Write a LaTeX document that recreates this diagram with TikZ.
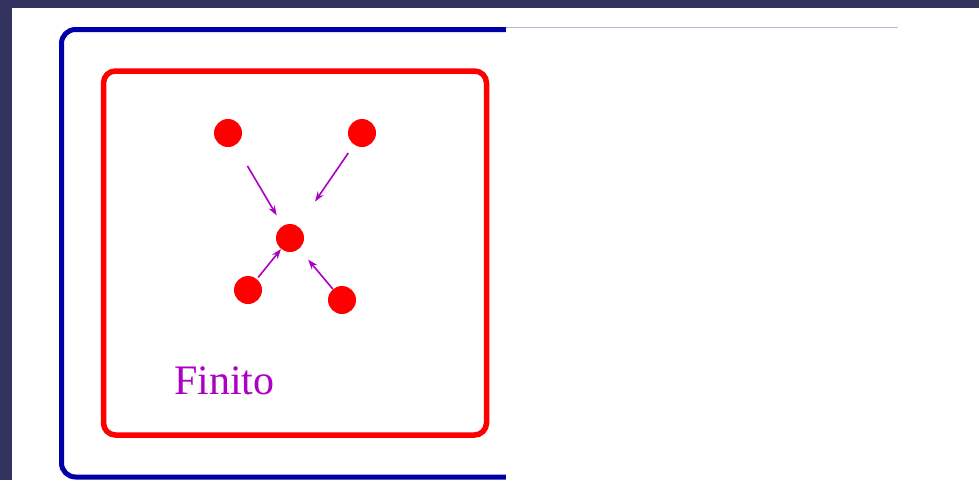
\documentclass[tikz,border=0pt]{standalone}
\usepackage{fontspec}
\setmainfont{Liberation Serif}
\usetikzlibrary{arrows.meta}
\definecolor{SlideNavy}{HTML}{33335F}
\definecolor{SetBlue}{HTML}{0000A8}
\definecolor{SetRed}{HTML}{FF0000}
\definecolor{FinitoPurple}{HTML}{AC00C4}
\definecolor{PanelLine}{HTML}{B8B4E0}

\begin{document}
\begin{tikzpicture}[x=1pt,y=-1pt,
  point/.style={circle,fill=SetRed,inner sep=0pt,minimum size=28pt},
  flow/.style={-{Stealth[length=10pt,width=7pt]},draw=FinitoPurple,line width=1.6pt},
  frame/.style={line width=5pt,rounded corners=14pt}
]
\useasboundingbox (0,0) rectangle (979,480);
\fill[SlideNavy] (0,0) rectangle (979,480);
\fill[white] (12,8) rectangle (979,480);
% outer and inner sets
\draw[frame,SetBlue] (700,29.5) -- (61.5,29.5) -- (61.5,477) -- (700,477);
\fill[white] (506,27) rectangle (979,480);
\draw[PanelLine,line width=1pt] (506,27.5) -- (898,27.5);
\draw[frame,SetRed,line width=5.5pt,rounded corners=12pt] (103.5,71) rectangle (486.5,435);
% points
\node[point] (nw) at (228,133) {};
\node[point] (ne) at (362,133) {};
\node[point] (mid) at (290,238) {};
\node[point] (sw) at (248,290) {};
\node[point] (se) at (342,300) {};
\draw[flow,shorten <=24pt,shorten >=12pt] (nw) -- (mid);
\draw[flow,shorten <=10pt,shorten >=30pt] (ne) -- (mid);
\draw[flow,shorten <=2pt] (sw) -- (mid);
\draw[flow,shorten >=14pt] (se) -- (mid);
\node[anchor=base west,inner sep=0pt,text=FinitoPurple,font=\fontsize{42}{50}\selectfont] (label) at (174,394) {Finito};
\end{tikzpicture}
\end{document}
